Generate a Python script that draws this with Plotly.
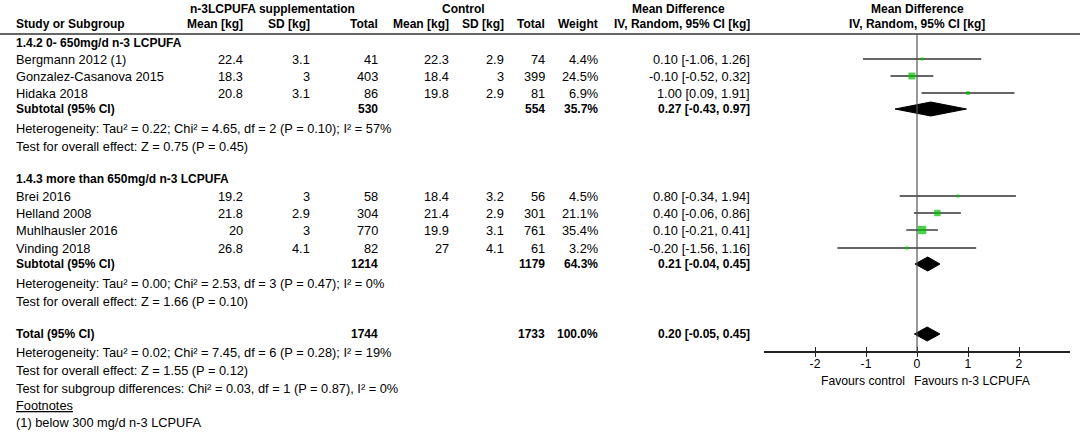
import plotly.graph_objects as go

# ---------------- data ----------------
studies = ["Bergmann 2012 (1)", "Gonzalez-Casanova 2015", "Hidaka 2018",
           "Brei 2016", "Helland 2008", "Muhlhausler 2016", "Vinding 2018"]
exp_mean = [22.4, 18.3, 20.8, 19.2, 21.8, 20, 26.8]
exp_sd = [3.1, 3, 3.1, 3, 2.9, 3, 4.1]
exp_n = [41, 403, 86, 58, 304, 770, 82]
ctl_mean = [22.3, 18.4, 19.8, 18.4, 21.4, 19.9, 27]
ctl_sd = [2.9, 3, 2.9, 3.2, 2.9, 3.1, 4.1]
ctl_n = [74, 399, 81, 56, 301, 761, 61]
weight = [4.4, 24.5, 6.9, 4.5, 21.1, 35.4, 3.2]
md = [0.10, -0.10, 1.00, 0.80, 0.40, 0.10, -0.20]
ci_lo = [-1.06, -0.52, 0.09, -0.34, -0.06, -0.21, -1.56]
ci_hi = [1.26, 0.32, 1.91, 1.94, 0.86, 0.41, 1.16]

group_titles = ["1.4.2 0- 650mg/d n-3 LCPUFA", "1.4.3 more than 650mg/d n-3 LCPUFA"]

pooled_labels = ["Subtotal (95% CI)", "Subtotal (95% CI)", "Total (95% CI)"]
pooled_exp_n = [530, 1214, 1744]
pooled_ctl_n = [554, 1179, 1733]
pooled_weight = [35.7, 64.3, 100.0]
pooled_md = [0.27, 0.21, 0.20]
pooled_lo = [-0.43, -0.04, -0.05]
pooled_hi = [0.97, 0.45, 0.45]

heterogeneity = [
    "Heterogeneity: Tau² = 0.22; Chi² = 4.65, df = 2 (P = 0.10); I² = 57%",
    "Heterogeneity: Tau² = 0.00; Chi² = 2.53, df = 3 (P = 0.47); I² = 0%",
    "Heterogeneity: Tau² = 0.02; Chi² = 7.45, df = 6 (P = 0.28); I² = 19%",
]
overall = [
    "Test for overall effect: Z = 0.75 (P = 0.45)",
    "Test for overall effect: Z = 1.66 (P = 0.10)",
    "Test for overall effect: Z = 1.55 (P = 0.12)",
]
subgroup_diff = "Test for subgroup differences: Chi² = 0.03, df = 1 (P = 0.87), I² = 0%"
footnote_title = "Footnotes"
footnote_text = "(1) below 300 mg/d n-3 LCPUFA"

x_ticks = [-2, -1, 0, 1, 2]
favours_left = "Favours control"
favours_right = "Favours n-3 LCPUFA"

# ---------------- layout (pixel positions) ----------------
W, H = 1084, 432
FONT = "Liberation Sans, Arial, sans-serif"
FS = 12.8      # regular text
FSB = 12       # bold text
y_group = [43, 179]
y_study = [59, 76, 93, 196, 213, 230, 248]
y_pooled = [109, 264, 334]
y_het = [128, 283, 352]
y_test = [146, 301, 370]
y_subdiff, y_foot1, y_foot2 = 388, 405, 422
y_head1, y_head2, y_rule = 9, 24, 34
y_axis = 352

col = dict(study=14, e_mean=245, e_sd=312, e_n=380, c_mean=451, c_sd=506,
           c_n=547, wt=600, ci=752)
plot_l, plot_r = 764, 1070

fig = go.Figure()
ann = []


def txt(x, y, s, anchor="left", bold=False, color="#000", size=None):
    sz = FS if size is None else size
    if bold:
        s = "<b>" + s + "</b>"
        sz = FSB
    ann.append(dict(x=x / W, y=y, xref="paper", yref="y", text=s, showarrow=False,
                    xanchor=anchor, yanchor="middle", font=dict(family=FONT, size=sz, color=color)))


# headers
txt(272, y_head1, "n-3LCPUFA supplementation", "center", True)
txt(463, y_head1, "Control", "center", True)
txt(678, y_head1, "Mean Difference", "center", True)
txt(917, y_head1, "Mean Difference", "center", True)
txt(col["study"], y_head2, "Study or Subgroup", "left", True)
txt(col["e_mean"], y_head2, "Mean [kg]", "right", True)
txt(col["e_sd"], y_head2, "SD [kg]", "right", True)
txt(col["e_n"], y_head2, "Total", "right", True)
txt(col["c_mean"], y_head2, "Mean [kg]", "right", True)
txt(col["c_sd"], y_head2, "SD [kg]", "right", True)
txt(col["c_n"], y_head2, "Total", "right", True)
txt(col["wt"], y_head2, "Weight", "right", True)
txt(col["ci"], y_head2, "IV, Random, 95% CI [kg]", "right", True)
txt(917, y_head2, "IV, Random, 95% CI [kg]", "center", True)

for g, t in enumerate(group_titles):
    txt(col["study"], y_group[g], t, "left", True)

for i, s in enumerate(studies):
    y = y_study[i]
    txt(col["study"], y, s)
    txt(col["e_mean"], y, f"{exp_mean[i]:g}", "right")
    txt(col["e_sd"], y, f"{exp_sd[i]:g}", "right")
    txt(col["e_n"], y, f"{exp_n[i]}", "right")
    txt(col["c_mean"], y, f"{ctl_mean[i]:g}", "right")
    txt(col["c_sd"], y, f"{ctl_sd[i]:g}", "right")
    txt(col["c_n"], y, f"{ctl_n[i]}", "right")
    txt(col["wt"], y, f"{weight[i]:.1f}%", "right")
    txt(col["ci"], y, f"{md[i]:.2f} [{ci_lo[i]:.2f}, {ci_hi[i]:.2f}]", "right")

for k in range(3):
    y = y_pooled[k]
    txt(col["study"], y, pooled_labels[k], "left", True)
    txt(col["e_n"], y, f"{pooled_exp_n[k]}", "right", True)
    txt(col["c_n"], y, f"{pooled_ctl_n[k]}", "right", True)
    txt(col["wt"], y, f"{pooled_weight[k]:.1f}%", "right", True)
    txt(col["ci"], y, f"{pooled_md[k]:.2f} [{pooled_lo[k]:.2f}, {pooled_hi[k]:.2f}]", "right", True)
    txt(col["study"], y_het[k], heterogeneity[k])
    txt(col["study"], y_test[k], overall[k])

txt(col["study"], y_subdiff, subgroup_diff)
txt(col["study"], y_foot1, '<span style="text-decoration:underline">' + footnote_title + '</span>')
txt(col["study"], y_foot2, footnote_text)

txt(907, 381, favours_left, "right", size=12.2)
txt(912, 381, favours_right, "left", size=12.2)

# CI lines
for i in range(len(studies)):
    fig.add_trace(go.Scatter(x=[ci_lo[i], ci_hi[i]], y=[y_study[i], y_study[i]], mode="lines",
                             line=dict(color="#333333", width=1.4), hoverinfo="skip", showlegend=False))
# squares
sizes = [max(3.0, 1.4 * w ** 0.5) for w in weight]
fig.add_trace(go.Scatter(x=md, y=y_study, mode="markers",
                         marker=dict(symbol="square", size=sizes, color="#00c000", line=dict(width=0)),
                         hoverinfo="skip", showlegend=False))
# diamonds
half_h = 7
for k in range(3):
    yk = y_pooled[k]
    fig.add_trace(go.Scatter(x=[pooled_lo[k], pooled_md[k], pooled_hi[k], pooled_md[k], pooled_lo[k]],
                             y=[yk, yk - half_h, yk, yk + half_h, yk], mode="lines", fill="toself",
                             fillcolor="#000000", line=dict(color="#000000", width=1),
                             hoverinfo="skip", showlegend=False))

shapes = [
    dict(type="line", xref="paper", yref="y", x0=0, x1=1080 / W, y0=y_rule, y1=y_rule,
         line=dict(color="#333333", width=1.5)),
    dict(type="line", xref="x", yref="y", x0=0, x1=0, y0=y_rule, y1=y_axis,
         line=dict(color="#555555", width=1.2)),
]

dom = [plot_l / W, plot_r / W]
pos = 1 - y_axis / H
fig.update_layout(
    width=W, height=H, margin=dict(l=0, r=0, t=0, b=0),
    paper_bgcolor="white", plot_bgcolor="white",
    annotations=ann, shapes=shapes,
    xaxis=dict(domain=dom, range=[-3, 3], anchor="free", position=pos,
               tickvals=x_ticks, ticktext=[str(v) for v in x_ticks],
               ticks="", showline=True, linecolor="#222", linewidth=1.8,
               showgrid=False, zeroline=False,
               tickfont=dict(family=FONT, size=12.2, color="#000")),
    xaxis2=dict(domain=dom, range=[-3, 3], overlaying="x", anchor="free", position=pos,
                tickvals=x_ticks, showticklabels=False, ticks="inside", ticklen=5,
                tickwidth=1.2, tickcolor="#222", showline=False, showgrid=False, zeroline=False),
    xaxis3=dict(domain=dom, range=[-3, 3], overlaying="x", anchor="free", position=pos,
                tickvals=x_ticks, showticklabels=False, ticks="outside", ticklen=4,
                tickwidth=1.2, tickcolor="#222", showline=False, showgrid=False, zeroline=False),
    yaxis=dict(domain=[0, 1], range=[H, 0], visible=False, showgrid=False, zeroline=False),
)
fig.add_trace(go.Scatter(x=[None], y=[None], xaxis="x2", showlegend=False, hoverinfo="skip"))
fig.add_trace(go.Scatter(x=[None], y=[None], xaxis="x3", showlegend=False, hoverinfo="skip"))

fig.write_html("out.html", config={"displayModeBar": False},
               post_script="document.body.style.margin='0';document.body.style.overflow='hidden';")
